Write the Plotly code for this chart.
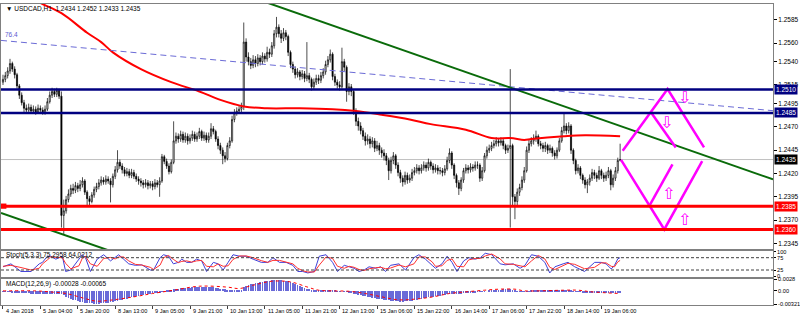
import plotly.graph_objects as go

# ---------------- DATA (prices in pips above 1.2300) ----------------
first_open = 218
closes = [221,225,230,238,232,226,214,204,196,190,
          188,191,187,189,186,190,188,185,189,197,
          204,208,205,209,203,75,80,92,98,104,
          102,107,104,108,112,100,93,90,97,103,
          106,110,113,111,114,112,108,117,124,132,
          128,124,120,122,118,121,117,114,112,110,
          108,110,107,109,106,110,108,112,138,133,
          128,122,132,155,160,157,162,156,160,155,
          158,162,157,160,165,158,161,156,160,168,
          165,157,150,145,139,136,150,155,178,185,
          187,189,192,261,245,240,236,242,238,244,
          240,246,243,250,248,257,270,277,270,265,
          271,267,250,237,232,226,229,224,227,222,
          225,221,213,218,222,220,225,229,237,242,
          248,224,218,215,213,240,234,208,213,208,
          187,176,171,166,160,155,157,152,155,147,
          150,145,142,139,134,123,134,139,129,121,
          115,111,118,113,115,121,123,126,123,126,
          129,126,132,128,124,126,123,123,121,125,
          134,142,129,118,110,104,113,123,126,124,
          127,126,129,129,115,123,139,145,147,150,
          152,155,153,155,150,145,147,150,95,90,
          100,105,113,123,145,152,155,158,160,152,
          150,147,150,145,147,142,139,145,155,166,
          171,166,171,145,134,123,126,118,113,108,
          111,115,121,118,115,123,118,115,118,123,
          108,115,123,134,135]
highs = [226,229,234,243,240,235,228,216,207,199,
         194,195,194,193,192,194,193,191,193,201,
         208,212,211,212,211,208,92,96,103,108,
         109,111,110,113,116,114,102,96,100,106,
         110,114,117,116,118,117,115,120,128,145,
         135,131,127,126,125,125,124,120,117,115,
         113,114,113,112,112,114,113,116,141,140,
         136,131,135,176,164,163,166,165,164,163,
         162,166,165,164,169,167,165,164,164,174,
         171,167,160,153,148,143,153,159,182,189,
         191,193,196,282,265,250,244,247,246,248,
         247,250,249,256,254,261,274,288,280,274,
         276,274,269,252,240,235,233,231,231,230,
         261,228,223,222,226,226,229,233,241,246,
         253,250,227,221,219,255,243,236,217,216,
         210,190,180,175,169,164,162,160,159,158,
         155,153,148,146,142,137,138,143,141,132,
         124,118,122,121,119,125,127,130,129,130,
         133,132,136,134,131,130,129,127,126,129,
         138,147,144,131,120,113,116,126,130,129,
         131,130,133,133,131,127,142,149,151,154,
         156,159,158,159,157,152,151,232,152,98,
         104,109,117,127,149,156,159,162,166,162,
         155,153,154,152,151,149,145,148,158,170,
         185,174,175,173,147,136,130,128,120,116,
         114,119,125,124,121,128,125,121,122,127,
         125,119,127,137,152]
lows = [215,218,222,227,229,222,211,200,193,186,
        184,185,184,184,183,184,185,183,183,187,
        195,201,202,202,200,62,54,77,89,95,
        98,99,100,101,105,97,86,86,88,94,
        100,103,107,108,108,109,89,105,114,121,
        125,120,117,117,115,115,114,111,108,106,
        104,105,103,104,102,103,105,95,110,130,
        125,119,120,130,152,153,154,153,153,151,
        152,155,154,154,157,155,155,153,153,157,
        162,154,146,141,130,132,134,147,153,175,
        182,184,186,188,240,236,232,233,234,235,
        236,237,239,240,244,245,254,266,266,260,
        262,263,246,233,228,222,223,220,221,218,
        219,217,209,210,215,216,217,222,226,234,
        239,220,214,211,209,211,230,197,204,203,
        183,171,166,162,156,150,151,147,148,143,
        144,140,137,134,129,113,120,130,125,117,
        110,106,108,109,110,112,118,120,119,120,
        123,122,123,124,120,121,119,119,117,118,
        123,131,125,114,105,97,101,110,120,120,
        121,122,123,125,111,112,121,136,142,144,
        147,149,149,150,146,141,142,62,84,71,
        86,96,102,110,121,142,149,151,154,149,
        146,143,143,141,142,138,135,136,143,153,
        163,162,163,141,130,119,120,114,109,104,
        99,107,112,114,111,113,114,111,112,115,
        102,105,112,120,133]

# moving average (red curve)
ma_bars = [10,16,25,36,42,47,59,72,84,93,103,113,127,141,151,162,174,183,198,209,217,223,226,240,249,264]
ma_vals = [312,303,292,271,261,250,232,218,208,199,192,190,190,189,187,183,178,173,167,158,158,156,157,160,161,160]

# horizontal levels
blue_levels = [1.2510, 1.2485]
red_levels = [1.2385, 1.2360]
current_price = 1.2435

# trend lines (bar index, price)
green_upper_x = [110, 329.4]; green_upper_y = [1.26059, 1.24137]
green_lower_x = [-0.85, 60];  green_lower_y = [1.23776, 1.23247]
fib_x = [-0.85, 329.4];       fib_y = [1.25628, 1.24874]
fib_label = "76.4"

# magenta projection paths
mag_paths = [
    ([265.1, 284.3, 299.9], [1.24445, 1.25107, 1.24480]),
    ([277.1, 287.8], [1.24860, 1.24480]),
    ([264.4, 282.9, 299.1], [1.24347, 1.23600, 1.24332]),
    ([276.5, 286.4], [1.23854, 1.24297]),
]
arrow_down_pts = [(291.5, 1.25016), (283.8, 1.24752)]
arrow_up_pts = [(284.7, 1.23981), (291.5, 1.23706)]

# stochastic (5,3,3)
stoch_bars = [0,3.4,7.7,12,15.5,16.9,19,20.4,22.6,25.4,26.8,29,32.5,33.9,35.3,37.4,40.3,43.1,46,48,
              49.5,51.6,53.8,56.6,59.4,63,64.4,67.2,68.7,70.8,72.9,75,76.5,78.6,80.7,82.8,85,87.1,90,92,
              94.2,96.3,98.4,101.3,104.1,107,110.5,113.3,115.5,118.3,121.1,124,126.1,128.2,130.4,133.2,135.3,138.2,141,143.1,
              146,148.1,150.2,152.3,154.5,156.6,159.4,161.6,163.7,165.8,169.4,172.2,175.8,177.9,180.7,183.6,185,187.8,190,192.1,
              194.2,197.1,199.2,202,204.2,206.3,209.1,212.7,214.8,218.3,221.2,223.3,226.1,229,231.8,233.9,236.1,239.6,241.7,244.6,
              248.8,253.1,255.9,258,260.2,261.6,263,264]
stoch_main = [38,50,19,19,50,56,81,81,69,81,19,25,69,87,75,19,69,87,62,75,
              87,69,50,44,46,25,25,75,87,81,50,56,69,56,56,69,62,19,56,50,
              25,56,87,81,81,69,56,56,75,56,56,44,19,19,13,19,81,87,56,19,
              44,38,32,19,25,38,32,38,19,44,50,25,75,87,69,44,32,50,81,56,
              19,62,75,69,75,93,87,50,46,50,32,44,87,81,56,13,38,50,56,38,
              19,56,56,50,29,44,70,75.3]
stoch_signal = [40,44,35,25,32,50,66,78,76,75,52,30,42,72,80,50,40,72,76,70,
                78,78,62,48,45,36,27,45,75,84,68,55,60,62,57,62,64,40,38,50,
                40,42,68,82,82,75,63,56,64,64,57,50,32,22,17,17,45,78,72,40,
                32,40,36,27,23,30,34,36,30,33,45,38,50,78,78,58,40,42,64,70,
                40,38,66,72,72,82,90,70,50,48,42,38,62,84,70,36,27,42,52,48,
                30,36,54,54,40,38,58,64.0]

# MACD (12,26,9), units of 1e-5
macd_hist = [-10,-12,-10,-15,-20,-25,-30,-35,-40,-45,
             -50,-52,-55,-58,-60,-62,-64,-66,-65,-62,
             -60,-58,-56,-55,-55,-58,
             -95,-130,-160,-185,-205,-222,-238,-250,-262,-272,
             -280,-288,-294,-298,-300,-298,-294,-288,-280,-272,
             -262,-250,-238,-225,-212,-200,-188,-175,-162,-150,
             -138,-126,-114,-102,-90,-78,-66,-55,-45,-36,
             -28,-20,-5,5,12,20,28,45,55,62,
             70,75,80,85,90,95,100,105,108,110,
             108,105,100,95,92,85,75,65,55,45,
             35,25,18,15,18,25,40,
             100,130,150,165,180,195,210,220,230,240,
             248,255,262,268,270,268,262,255,248,240,
             225,205,185,160,135,110,85,65,50,35,
             25,18,15,20,28,35,40,35,25,15,
             5,-5,0,5,-10,-20,-35,-55,-70,-85,
             -98,-110,-122,-135,-146,-157,-168,-178,-188,-198,
             -206,-214,-222,-230,-236,-242,-246,-248,-248,-246,
             -242,-236,-228,-218,-206,-194,-182,-170,-158,-148,
             -140,-132,-124,-115,-105,-96,-85,-75,-66,-60,
             -58,-60,-60,-56,-50,-44,-38,-32,-26,-20,
             -14,-12,-16,-10,0,10,18,25,32,38,
             42,45,46,45,44,30,10,-5,-15,-18,
             -15,-5,5,12,18,22,24,24,22,20,
             18,15,12,10,10,12,16,20,22,22,
             15,5,-5,-12,-18,-24,-30,-34,-36,-36,
             -35,-34,-32,-30,-30,-29,-28,-30,-34,-32,-30,-28]
macd_sig_bars = [0,14,20,27,35,40,46,56,64,73,84,96,101,107,115,123,130,135,141,148,155,162,169,176,184,191,198,206,212,219,223,229,240,246,252,264]
macd_sig_vals = [0,0,-25,-64,-184,-248,-224,-144,-64,16,112,90,56,136,232,216,96,16,0,-10,-64,-144,-215,-200,-144,-64,-24,16,40,40,0,0,16,16,-24,-65]

date_bars = [0,16,32,48,64,80,96,112,128,144,160,176,192,208,224,240,256]
date_labels = ["4 Jan 2018","5 Jan 04:00","5 Jan 20:00","8 Jan 13:00","9 Jan 05:00","9 Jan 21:00",
               "10 Jan 13:00","11 Jan 05:00","11 Jan 21:00","12 Jan 13:00","15 Jan 06:00","15 Jan 22:00",
               "16 Jan 14:00","17 Jan 06:00","17 Jan 22:00","18 Jan 14:00","19 Jan 06:00"]
price_ticks = [1.2345,1.2370,1.2395,1.2420,1.2445,1.2470,1.2495,1.2515,1.2540,1.2560,1.2585]

title_text = "\u25bc USDCAD,H1  1.2434 1.2452 1.2433 1.2435"
stoch_text = "Stoch(5,3,3) 75.2958 64.0212"
macd_text = "MACD(12,26,9) -0.00028 -0.00065"

# ---------------- BUILD ----------------
def px(v):
    return 1.2300 + v / 10000.0

n = len(closes)
bars = list(range(n))
opens = [first_open] + closes[:-1]

FONT = "Liberation Sans"
W, H = 800, 319
XR = [-0.85, 329.4]

fig = go.Figure()

fig.add_trace(go.Candlestick(
    x=bars, open=[px(v) for v in opens], high=[px(v) for v in highs[:n]],
    low=[px(v) for v in lows[:n]], close=[px(v) for v in closes],
    increasing=dict(line=dict(color="black", width=0.7), fillcolor="white"),
    decreasing=dict(line=dict(color="black", width=0.7), fillcolor="black"),
    whiskerwidth=0, xaxis="x", yaxis="y", showlegend=False, hoverinfo="skip"))

fig.add_trace(go.Scatter(x=ma_bars, y=[px(v) for v in ma_vals], mode="lines",
                         line=dict(color="#ff0000", width=2, shape="spline"),
                         xaxis="x", yaxis="y", showlegend=False, hoverinfo="skip"))

fig.add_trace(go.Scatter(x=fib_x, y=fib_y, mode="lines",
                         line=dict(color="#6b6bd6", width=1, dash="6px,4px"),
                         xaxis="x", yaxis="y", showlegend=False, hoverinfo="skip"))
for gx, gy in [(green_upper_x, green_upper_y), (green_lower_x, green_lower_y)]:
    fig.add_trace(go.Scatter(x=gx, y=gy, mode="lines", line=dict(color="#0a6b0a", width=2),
                             xaxis="x", yaxis="y", showlegend=False, hoverinfo="skip"))
for mx, my in mag_paths:
    fig.add_trace(go.Scatter(x=mx, y=my, mode="lines", line=dict(color="#ff00ff", width=2.5),
                             xaxis="x", yaxis="y", showlegend=False, hoverinfo="skip"))

# stochastic
fig.add_trace(go.Scatter(x=stoch_bars, y=stoch_main, mode="lines", line=dict(color="#4040d8", width=1),
                         xaxis="x2", yaxis="y2", showlegend=False, hoverinfo="skip"))
fig.add_trace(go.Scatter(x=stoch_bars, y=stoch_signal, mode="lines", line=dict(color="#ff3030", width=1),
                         xaxis="x2", yaxis="y2", showlegend=False, hoverinfo="skip"))

# MACD
fig.add_trace(go.Bar(x=list(range(len(macd_hist))), y=[v * 1e-5 for v in macd_hist], width=0.35,
                     marker=dict(color="#6a6ad8", line=dict(width=0)),
                     xaxis="x3", yaxis="y3", showlegend=False, hoverinfo="skip"))
fig.add_trace(go.Scatter(x=macd_sig_bars, y=[v * 1e-5 for v in macd_sig_vals], mode="lines",
                         line=dict(color="#ff0000", width=1, dash="dot", shape="spline"),
                         xaxis="x3", yaxis="y3", showlegend=False, hoverinfo="skip"))

def dom(top_px, bot_px):
    return [1 - bot_px / H, 1 - top_px / H]

axis_common = dict(showgrid=False, zeroline=False, showline=True, mirror=True,
                   linecolor="#808080", linewidth=1)
tickfont = dict(family=FONT, size=6.5, color="black")
smallfont = dict(family=FONT, size=5.6, color="black")

p_top = 1.2510 + 87 / 9470
p_bot = 1.2510 - 162 / 9470

shapes = []
shapes.append(dict(type="line", xref="x domain", x0=0, x1=1, yref="y", y0=current_price, y1=current_price,
                   line=dict(color="#c0c0c0", width=1), layer="below"))
for lv in blue_levels:
    shapes.append(dict(type="line", xref="x domain", x0=0, x1=1, yref="y", y0=lv, y1=lv,
                       line=dict(color="#000080", width=2.5)))
for lv in red_levels:
    shapes.append(dict(type="line", xref="x domain", x0=0, x1=1, yref="y", y0=lv, y1=lv,
                       line=dict(color="#ff0000", width=3)))
shapes.append(dict(type="rect", xref="x domain", x0=0, x1=0.007, yref="y",
                   y0=red_levels[0] - 0.00028, y1=red_levels[0] + 0.00028,
                   fillcolor="#ff0000", line=dict(width=0)))
for lv in (75, 25):
    shapes.append(dict(type="line", xref="x2 domain", x0=0, x1=1, yref="y2", y0=lv, y1=lv,
                       line=dict(color="#404040", width=1, dash="3px,2px")))

annotations = []
def ann(text, x, y, xref="paper", yref="paper", color="black", size=6.5, xanchor="left",
        yanchor="middle", bg=None, family=FONT):
    d = dict(text=text, x=x, y=y, xref=xref, yref=yref, showarrow=False, xanchor=xanchor,
             yanchor=yanchor, font=dict(family=family, size=size, color=color))
    if bg:
        d.update(bgcolor=bg, borderpad=1)
    annotations.append(d)

ann(title_text, 0.004, 1 - 6 / H)
ann(stoch_text, 0.004, 1 - 256.5 / H)
ann(macd_text, 0.004, 1 - 285.5 / H)
ann(fib_label, 0.2, 1.25691, xref="x", yref="y", color="#5a5ad0")

box_x = 777.5 / 776
for lv in blue_levels:
    ann(f"{lv:.4f}", box_x, lv, yref="y", color="white", bg="#000080")
ann(f"{current_price:.4f}", box_x, current_price, yref="y", color="white", bg="#000000")
for lv in red_levels:
    ann(f"{lv:.4f}", box_x, lv, yref="y", color="white", bg="#ff0000")

for b, t in zip(date_bars, date_labels):
    ann(t, b + 0.3, 1 - 313 / H, xref="x3", yref="paper", size=5.6)

for bx, by in arrow_down_pts:
    ann("\u21e9", bx, by, xref="x", yref="y", color="#ff00ff", size=16, xanchor="center",
        family="DejaVu Sans")
for bx, by in arrow_up_pts:
    ann("\u21e7", bx, by, xref="x", yref="y", color="#ff00ff", size=16, xanchor="center",
        family="DejaVu Sans")

fig.update_layout(
    width=W, height=H, autosize=False,
    margin=dict(l=0, r=24, t=0, b=0, pad=0),
    paper_bgcolor="white", plot_bgcolor="white",
    bargap=0,
    xaxis=dict(domain=[0, 1], range=XR, anchor="y", showticklabels=False, ticks="",
               rangeslider=dict(visible=False), **axis_common),
    xaxis2=dict(domain=[0, 1], range=XR, anchor="y2", matches="x", showticklabels=False, ticks="",
                **axis_common),
    xaxis3=dict(domain=[0, 1], range=XR, anchor="y3", matches="x", showticklabels=False,
                ticks="outside", ticklen=3, tickcolor="#404040", tickvals=date_bars, **axis_common),
    yaxis=dict(domain=dom(1, 250), range=[p_bot, p_top], anchor="x", side="right",
               tickvals=price_ticks, ticktext=[f"{v:.4f}" for v in price_ticks],
               ticks="outside", ticklen=3, tickcolor="black", tickfont=tickfont, **axis_common),
    yaxis2=dict(domain=dom(252, 278), range=[-2, 102], anchor="x2", side="right",
                tickvals=[100, 75, 25, 0], ticktext=["100", "75", "25", "0"],
                ticks="outside", ticklen=2, tickcolor="black", tickfont=smallfont, **axis_common),
    yaxis3=dict(domain=dom(280, 307), range=[-0.00345, 0.00295], anchor="x3", side="right",
                tickvals=[0.0028, 0.0, -0.00321], ticktext=["0.0028", "0.00", "-0.00321"],
                ticks="outside", ticklen=3, tickcolor="black", tickfont=smallfont, **axis_common),
    shapes=shapes, annotations=annotations,
    hovermode=False,
)

fig.write_html("out.html")
